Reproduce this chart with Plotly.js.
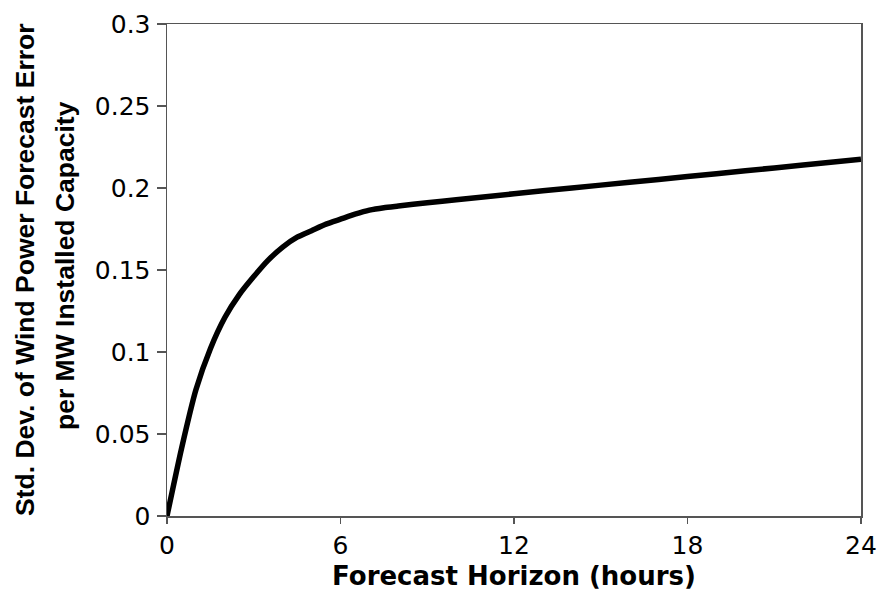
<!DOCTYPE html>
<html>
<head>
<meta charset="utf-8">
<script src="https://cdn.plot.ly/plotly-3.0.1.min.js"></script>
<style>html,body{margin:0;padding:0;background:#fff;}#chart{width:881px;height:594px;}</style>
</head>
<body>
<div id="chart"></div>
<script>
const hours = [0, 0.5, 1, 1.5, 2, 2.5, 3, 3.5, 4, 4.5, 5, 5.5, 6, 6.5, 7, 7.5, 8, 9, 10, 12, 14, 16, 18, 20, 22, 24];
const stdDev = [0, 0.041, 0.077, 0.102, 0.121, 0.135, 0.146, 0.156, 0.164, 0.170, 0.174, 0.178, 0.181, 0.184, 0.1865, 0.188, 0.189, 0.191, 0.1928, 0.1965, 0.2, 0.2035, 0.207, 0.2105, 0.214, 0.2175];
const xTicks = [0, 6, 12, 18, 24];
const yTicks = [0, 0.05, 0.1, 0.15, 0.2, 0.25, 0.3];
const yTickText = ["0", "0.05", "0.1", "0.15", "0.2", "0.25", "0.3"];
const xTitle = "Forecast Horizon (hours)";
const yTitleLine1 = "Std. Dev. of Wind Power Forecast Error";
const yTitleLine2 = "per MW Installed Capacity";

const tickFont = {family: "DejaVu Sans", size: 25, color: "#000"};
const axisColor = "#555";

Plotly.newPlot("chart", [{
  x: hours, y: stdDev, type: "scatter", mode: "lines",
  line: {color: "#000", width: 5.5, shape: "spline", smoothing: 0.6},
  hoverinfo: "skip"
}], {
  width: 881, height: 594,
  margin: {l: 167, r: 20, t: 24, b: 78},
  paper_bgcolor: "#fff", plot_bgcolor: "#fff",
  showlegend: false,
  xaxis: {
    range: [0, 24], tickvals: xTicks, ticktext: xTicks.map(String),
    showgrid: false, zeroline: false,
    showline: true, linecolor: axisColor, linewidth: 1.5, mirror: true,
    ticks: "outside", ticklen: 6, tickcolor: axisColor, tickwidth: 1.5,
    tickfont: tickFont, ticklabelstandoff: 0,
    title: {text: xTitle, font: {family: "DejaVu Sans", size: 26, color: "#000", weight: "bold"}, standoff: 8}
  },
  yaxis: {
    range: [0, 0.3], tickvals: yTicks, ticktext: yTickText,
    showgrid: false, zeroline: false,
    showline: true, linecolor: axisColor, linewidth: 1.5, mirror: true,
    ticks: "outside", ticklen: 9, tickcolor: axisColor, tickwidth: 1.5,
    tickfont: tickFont, ticklabelstandoff: 1
  },
  annotations: [
    {text: "<b>" + yTitleLine1 + "</b>", textangle: -90, xref: "paper", yref: "paper",
     x: 0, y: 0.5, xanchor: "center", yanchor: "middle", xshift: -142, showarrow: false,
     font: {family: "Liberation Sans", size: 26.5, color: "#000"}},
    {text: "<b>" + yTitleLine2 + "</b>", textangle: -90, xref: "paper", yref: "paper",
     x: 0, y: 0.5, xanchor: "center", yanchor: "middle", xshift: -102, yshift: 4, showarrow: false,
     font: {family: "Liberation Sans", size: 26.5, color: "#000"}}
  ]
}, {staticPlot: true});
</script>
</body>
</html>
